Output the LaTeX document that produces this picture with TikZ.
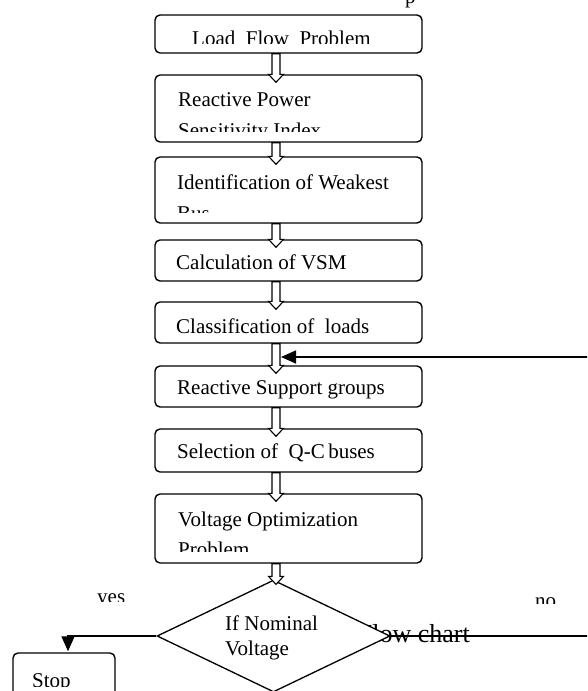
\documentclass[tikz,border=0pt]{standalone}
\usepackage{fontspec}
\setmainfont{Liberation Serif}
\usetikzlibrary{shapes.geometric,arrows.meta,calc}
\newcommand\cliptxt[5]{% name, x, baseline, clip-bottom y, text
  \begin{scope}
    \clip (0,0) rectangle (587,#4);
    \node[txt] (#1) at (#2,#3) {#5};
  \end{scope}}
\newcommand\blockarr[3]{% from, to, extra offset of head base
  \draw[barrow] let \p1=(#1.south), \p2=(#2.north) in
    (\x1-16.5pt,\y1) -- (\x1-16.5pt,\y2+#3) -- (\x1-20pt,\y2+#3)
    -- (\x1-12.5pt,\y2+#3-8pt) -- (\x1-5pt,\y2+#3) -- (\x1-8.5pt,\y2+#3)
    -- (\x1-8.5pt,\y1) -- cycle;}
\begin{document}
\begin{tikzpicture}[x=1pt,y=-1pt,
  box/.style={draw, line width=1.4pt, rounded corners=5pt, minimum width=267pt, inner sep=0pt},
  txt/.style={inner sep=0pt, anchor=base west, font=\fontsize{21}{25}\selectfont},
  barrow/.style={draw, fill=white, line width=1.1pt, line join=miter},
  conn/.style={line width=1.4pt},
  tipstyle/.style={-{Triangle[length=15pt,width=13pt]}}]
\clip (0,0) rectangle (587,691);
\fill[white] (0,0) rectangle (587,691);

% stray heading fragment at the top
\node[txt] (ptop) at (405,3.5) {p};

% boxes
\node[box, minimum height=38pt] (b1) at (288.5,34) {};
\node[box, minimum height=67pt] (b2) at (288.5,108.5) {};
\node[box, minimum height=66pt] (b3) at (288.5,190) {};
\node[box, minimum height=41pt] (b4) at (288.5,260.5) {};
\node[box, minimum height=41pt] (b5) at (288.5,322.5) {};
\node[box, minimum height=41pt] (b6) at (288.5,386.5) {};
\node[box, minimum height=43pt] (b7) at (288.5,450.5) {};
\node[box, minimum height=69pt] (b8) at (288.5,528.5) {};
\node[box, minimum width=102pt, minimum height=50pt] (stop) at (64,678) {};

% box texts
\cliptxt{t1}{192}{45.6}{43.3}{Load\ \ Flow\ \ Problem}
\cliptxt{t2a}{178}{106.7}{131}{Reactive Power}
\cliptxt{t2b}{178}{137.3}{131}{Sensitivity Index}
\cliptxt{t3a}{177}{189}{212.3}{Identification of Weakest}
\cliptxt{t3b}{177}{220}{212.3}{Bus}
\cliptxt{t4}{176}{269.3}{276}{Calculation of VSM}
\cliptxt{t5}{176}{333}{338}{Classification of\ \ loads}
\cliptxt{t6}{177}{394}{401.5}{Reactive Support groups}
\cliptxt{t7}{177}{458}{466}{Selection of\ \ Q-C\hspace{3.5pt}buses}
\cliptxt{t8a}{178}{526}{551}{Voltage Optimization}
\cliptxt{t8b}{178}{556.7}{551}{Problem}
\cliptxt{tstop}{32}{687.3}{686.6}{Stop}
\cliptxt{tyes}{97}{603.4}{601.7}{yes}
\cliptxt{tno}{535}{607.4}{603}{no}

% hidden caption behind the decision
\node[inner sep=0pt, anchor=base east, font=\fontsize{26}{30}\selectfont] (cap) at (470,642) {Flow chart};

% decision
\node[draw, diamond, fill=white, line width=1.3pt, inner sep=0pt,
      minimum width=233pt, minimum height=112pt] (d) at (273.5,636) {};
\node[txt] (ta) at (225,630) {If Nominal};
\cliptxt{tb}{225}{655.7}{659}{Voltage}

% block arrows
\blockarr{b1}{b2}{0pt}
\blockarr{b2}{b3}{0pt}
\blockarr{b3}{b4}{0pt}
\blockarr{b4}{b5}{0pt}
\blockarr{b5}{b6}{0pt}
\blockarr{b6}{b7}{0pt}
\blockarr{b7}{b8}{0pt}
\blockarr{b8}{d}{3pt}

% connectors
\coordinate (fbR) at (588,357);
\coordinate (fbT) at (281,357);
\draw[conn, tipstyle] (fbR) -- (fbT);
\coordinate (noR) at (588,636);
\draw[conn] (d.east) -- (noR);
\draw[conn, tipstyle] (d.west) -| ([xshift=4pt,yshift=1pt]stop.north);
\end{tikzpicture}
\end{document}
